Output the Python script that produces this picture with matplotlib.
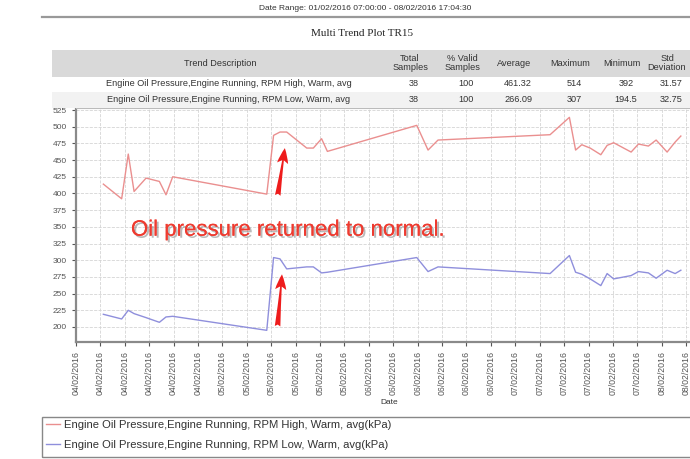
import pandas as pd
import matplotlib
matplotlib.use('Agg')
import matplotlib.pyplot as plt
import matplotlib.dates as mdates
import matplotlib.patheffects as pe
from matplotlib.patches import Rectangle

# sample times (dd/mm/yyyy HH:MM)
times = [
    '04/02/2016 04:29', '04/02/2016 07:29', '04/02/2016 08:34', '04/02/2016 09:31',
    '04/02/2016 11:29', '04/02/2016 13:40', '04/02/2016 14:45', '04/02/2016 15:51',
    '05/02/2016 07:16', '05/02/2016 08:23', '05/02/2016 09:26', '05/02/2016 10:32',
    '05/02/2016 13:49', '05/02/2016 14:54', '05/02/2016 16:15', '05/02/2016 17:12',
    '06/02/2016 07:51', '06/02/2016 09:42', '06/02/2016 11:20',
    '07/02/2016 05:42', '07/02/2016 08:52', '07/02/2016 09:53', '07/02/2016 10:54',
    '07/02/2016 12:16', '07/02/2016 14:01', '07/02/2016 15:03', '07/02/2016 16:07',
    '07/02/2016 18:59', '07/02/2016 20:11', '07/02/2016 21:49', '07/02/2016 23:05',
    '08/02/2016 00:53', '08/02/2016 02:12', '08/02/2016 03:08',
]
rpm_high = [414, 392, 459, 403, 423, 418, 398, 425,
            399, 487, 492, 492, 468, 468, 482, 463,
            502, 465, 480,
            488, 514, 465, 473, 468, 458, 472, 476,
            462, 474, 471, 480, 462, 477, 486]
rpm_low = [219, 212, 225, 220, 214, 207, 215, 216,
           195, 304, 302, 287, 290, 290, 281, 282,
           304, 283, 290,
           280, 307, 282, 279, 272, 262, 280, 272,
           277, 283, 281, 273, 285, 280, 285]

label_high = 'Engine Oil Pressure,Engine Running, RPM High, Warm, avg(kPa)'
label_low = 'Engine Oil Pressure,Engine Running, RPM Low, Warm, avg(kPa)'

table_header = ['Trend Description', 'Total\nSamples', '% Valid\nSamples', 'Average', 'Maximum', 'Minimum', 'Std\nDeviation']
table_rows = [
    ['Engine Oil Pressure,Engine Running, RPM High, Warm, avg', '38', '100', '461.32', '514', '392', '31.57'],
    ['Engine Oil Pressure,Engine Running, RPM Low, Warm, avg', '38', '100', '266.09', '307', '194.5', '32.75'],
]

t = pd.to_datetime(times, format='%d/%m/%Y %H:%M')

W, H = 690, 459
fig = plt.figure(figsize=(W / 100, H / 100), dpi=100)
plt.rcParams['font.family'] = ['Liberation Sans', 'DejaVu Sans']


def fx(x):
    return x / W


def fy(y):
    return 1 - y / H


# header bits
fig.text(fx(365), fy(8), 'Date Range: 01/02/2016 07:00:00 - 08/02/2016 17:04:30',
         ha='center', va='center', fontsize=6, color='#333333')
fig.add_artist(plt.Line2D([fx(42), fx(700)], [fy(17), fy(17)], color='#999999', lw=1.6))
fig.text(fx(362), fy(33), 'Multi Trend Plot TR15', ha='center', va='center',
         fontsize=8, family='Liberation Serif', color='#222222')

# stats table
fig.add_artist(Rectangle((fx(52), fy(77)), fx(700) - fx(52), 27 / H,
                         transform=fig.transFigure, fc='#d9d9d9', ec='none'))
fig.add_artist(Rectangle((fx(52), fy(108)), fx(700) - fx(52), 16 / H,
                         transform=fig.transFigure, fc='#f2f2f2', ec='none'))
col_x = [220, 410, 462, 514, 570, 622, 667]
for cx, txt in zip(col_x, table_header):
    fig.text(fx(cx), fy(63), txt, ha='center', va='center', fontsize=6.6,
             color='#333333', linespacing=1.0)
for ry, row in zip([84, 100], table_rows):
    for i, (cx, txt) in enumerate(zip(col_x, row)):
        x = 229 if i == 0 else cx + 4
        fig.text(fx(x), fy(ry), txt, ha='center', va='center', fontsize=6.6, color='#333333')

# plot area
ax = fig.add_axes([fx(76), fy(342), fx(702) - fx(76), (342 - 108) / H])
ax.plot(t, rpm_high, color='#ea8f8f', lw=1.0, label=label_high)
ax.plot(t, rpm_low, color='#8f8fdc', lw=1.0, label=label_low)

start = pd.Timestamp('2016-02-04 00:00')
ax.set_xlim(start, start + pd.Timedelta(hours=102.6))
ax.set_ylim(177.5, 528)
ax.set_yticks(range(200, 526, 25))
ax.xaxis.set_major_locator(mdates.HourLocator(byhour=range(0, 24, 4)))
ax.xaxis.set_major_formatter(mdates.DateFormatter('%d/%m/%Y'))
ax.tick_params(axis='x', labelrotation=90, labelsize=6.3, colors='#555555', length=3)
ax.tick_params(axis='y', labelsize=6, colors='#555555', length=3)
ax.grid(True, color='#d4d4d4', linestyle='--', lw=0.6)
for s in ['left', 'bottom']:
    ax.spines[s].set_color('#8a8a8a')
    ax.spines[s].set_linewidth(1.6)
ax.spines['top'].set_color('#bbbbbb')
ax.spines['right'].set_visible(False)
ax.set_xlabel('Date', fontsize=6, color='#333333', labelpad=3)

# annotation
ax.text(start + pd.Timedelta(hours=9), 345, 'Oil pressure returned to normal.',
        color='#ee3b30', fontsize=16, ha='left', va='center',
        path_effects=[pe.withSimplePatchShadow(offset=(1.5, -1.5), shadow_rgbFace='#777777', alpha=0.5),
                      pe.Normal()])
arrow_style = dict(arrowstyle='fancy,head_width=0.8,head_length=1.1,tail_width=0.4',
                   color='#ee1c1c', lw=0)
ax.annotate('', xy=(start + pd.Timedelta(hours=34.3), 472),
            xytext=(start + pd.Timedelta(hours=33.0), 393), arrowprops=arrow_style)
ax.annotate('', xy=(start + pd.Timedelta(hours=33.8), 283),
            xytext=(start + pd.Timedelta(hours=33.0), 197), arrowprops=arrow_style)

# legend box
fig.add_artist(Rectangle((fx(42), fy(457)), fx(700) - fx(42), 40 / H,
                         transform=fig.transFigure, fill=False, ec='#888888', lw=1.0))
fig.legend(loc='upper left', bbox_to_anchor=(fx(44), fy(418)), frameon=False,
           fontsize=8.1, handlelength=1.2, handletextpad=0.4, labelspacing=0.85,
           borderaxespad=0, borderpad=0.2, labelcolor='#333333')

fig.savefig('out.png', dpi=100)
